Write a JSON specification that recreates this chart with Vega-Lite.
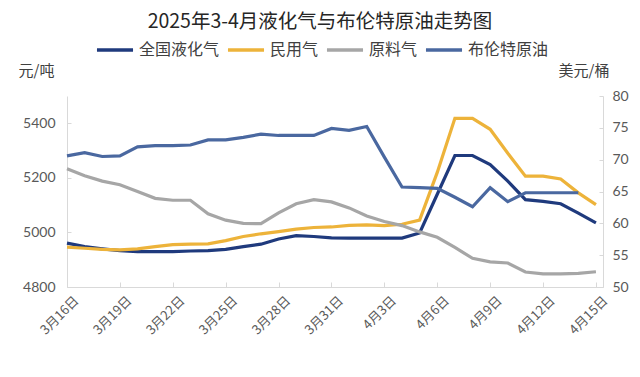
{
  "$schema": "https://vega.github.io/schema/vega-lite/v6.json",
  "width": 536,
  "height": 191,
  "autosize": {"type": "none"},
  "padding": {"left": 67, "top": 96, "right": 37, "bottom": 90},
  "background": "white",
  "config": {"view": {"stroke": null}, "font": "Noto Sans CJK SC"},
  "title": {
    "text": "2025年3-4月液化气与布伦特原油走势图",
    "fontSize": 19.5,
    "fontWeight": "normal",
    "color": "#262626",
    "anchor": "middle",
    "frame": "group",
    "dx": -15,
    "offset": -2
  },
  "data": {
    "values": [
      {"date": "2025-03-16", "全国液化气": 4961, "民用气": 4946, "原料气": 5233, "布伦特原油": 70.6},
      {"date": "2025-03-17", "全国液化气": 4948, "民用气": 4942, "原料气": 5208, "布伦特原油": 71.1},
      {"date": "2025-03-18", "全国液化气": 4940, "民用气": 4938, "原料气": 5188, "布伦特原油": 70.5},
      {"date": "2025-03-19", "全国液化气": 4933, "民用气": 4936, "原料气": 5175, "布伦特原油": 70.6},
      {"date": "2025-03-20", "全国液化气": 4930, "民用气": 4940, "原料气": 5150, "布伦特原油": 72.0},
      {"date": "2025-03-21", "全国液化气": 4930, "民用气": 4948, "原料气": 5125, "布伦特原油": 72.2},
      {"date": "2025-03-22", "全国液化气": 4930, "民用气": 4955, "原料气": 5118, "布伦特原油": 72.2},
      {"date": "2025-03-23", "全国液化气": 4932, "民用气": 4957, "原料气": 5118, "布伦特原油": 72.3},
      {"date": "2025-03-24", "全国液化气": 4933, "民用气": 4958, "原料气": 5068, "布伦特原油": 73.1},
      {"date": "2025-03-25", "全国液化气": 4938, "民用气": 4970, "原料气": 5045, "布伦特原油": 73.1},
      {"date": "2025-03-26", "全国液化气": 4948, "民用气": 4985, "原料气": 5033, "布伦特原油": 73.5},
      {"date": "2025-03-27", "全国液化气": 4957, "民用气": 4995, "原料气": 5032, "布伦特原油": 74.0},
      {"date": "2025-03-28", "全国液化气": 4976, "民用气": 5003, "原料气": 5072, "布伦特原油": 73.8},
      {"date": "2025-03-29", "全国液化气": 4988, "民用气": 5012, "原料气": 5105, "布伦特原油": 73.8},
      {"date": "2025-03-30", "全国液化气": 4985, "民用气": 5018, "原料气": 5120, "布伦特原油": 73.8},
      {"date": "2025-03-31", "全国液化气": 4980, "民用气": 5020, "原料气": 5112, "布伦特原油": 74.9},
      {"date": "2025-04-01", "全国液化气": 4979, "民用气": 5026, "原料气": 5090, "布伦特原油": 74.6},
      {"date": "2025-04-02", "全国液化气": 4979, "民用气": 5028, "原料气": 5060, "布伦特原油": 75.2},
      {"date": "2025-04-03", "全国液化气": 4979, "民用气": 5025, "原料气": 5040, "布伦特原油": 70.4},
      {"date": "2025-04-04", "全国液化气": 4979, "民用气": 5030, "原料气": 5025, "布伦特原油": 65.7},
      {"date": "2025-04-05", "全国液化气": 4998, "民用气": 5045, "原料气": 5002, "布伦特原油": 65.6},
      {"date": "2025-04-06", "全国液化气": 5140, "民用气": 5220, "原料气": 4982, "布伦特原油": 65.5},
      {"date": "2025-04-07", "全国液化气": 5282, "民用气": 5418, "原料气": 4945, "布伦特原油": 64.1},
      {"date": "2025-04-08", "全国液化气": 5282, "民用气": 5418, "原料气": 4905, "布伦特原油": 62.6},
      {"date": "2025-04-09", "全国液化气": 5249, "民用气": 5378, "原料气": 4892, "布伦特原油": 65.6},
      {"date": "2025-04-10", "全国液化气": 5188, "民用气": 5290, "原料气": 4888, "布伦特原油": 63.4},
      {"date": "2025-04-11", "全国液化气": 5120, "民用气": 5206, "原料气": 4855, "布伦特原油": 64.8},
      {"date": "2025-04-12", "全国液化气": 5114, "民用气": 5206, "原料气": 4848, "布伦特原油": 64.8},
      {"date": "2025-04-13", "全国液化气": 5105, "民用气": 5196, "原料气": 4848, "布伦特原油": 64.8},
      {"date": "2025-04-14", "全国液化气": 5071, "民用气": 5145, "原料气": 4850, "布伦特原油": 64.8},
      {"date": "2025-04-15", "全国液化气": 5035, "民用气": 5102, "原料气": 4856, "布伦特原油": null}
    ]
  },
  "encoding": {
    "x": {
      "field": "date",
      "type": "temporal",
      "scale": {
        "type": "utc",
        "domain": [
          {"year": 2025, "month": 3, "date": 16, "utc": true},
          {"year": 2025, "month": 4, "date": 15, "hours": 9, "minutes": 36, "utc": true}
        ]
      },
      "axis": {
        "title": null,
        "grid": false,
        "values": [
          {"year": 2025, "month": 3, "date": 16, "utc": true},
          {"year": 2025, "month": 3, "date": 19, "utc": true},
          {"year": 2025, "month": 3, "date": 22, "utc": true},
          {"year": 2025, "month": 3, "date": 25, "utc": true},
          {"year": 2025, "month": 3, "date": 28, "utc": true},
          {"year": 2025, "month": 3, "date": 31, "utc": true},
          {"year": 2025, "month": 4, "date": 3, "utc": true},
          {"year": 2025, "month": 4, "date": 6, "utc": true},
          {"year": 2025, "month": 4, "date": 9, "utc": true},
          {"year": 2025, "month": 4, "date": 12, "utc": true},
          {"year": 2025, "month": 4, "date": 15, "utc": true}
        ],
        "labelExpr": "(utcmonth(datum.value) + 1) + '月' + utcdate(datum.value) + '日'",
        "labelAngle": -45,
        "labelFontSize": 13,
        "labelColor": "#595959",
        "labelPadding": 12,
        "labelOffset": 5,
        "domainColor": "#D9D9D9",
        "tickColor": "#D9D9D9",
        "tickSize": -5
      }
    }
  },
  "layer": [
    {
      "transform": [{"fold": ["全国液化气", "民用气", "原料气"], "as": ["s", "v"]}],
      "mark": {"type": "line", "strokeWidth": 3.2},
      "encoding": {
        "y": {
          "field": "v",
          "type": "quantitative",
          "scale": {"domain": [4800, 5500], "nice": false, "zero": false},
          "axis": {
            "values": [4800, 5000, 5200, 5400],
            "format": "d",
            "grid": false,
            "labelFont": "Lato",
            "labelFontSize": 14,
            "labelColor": "#595959",
            "labelPadding": 16,
            "domainColor": "#D9D9D9",
            "tickColor": "#D9D9D9",
            "tickSize": -4,
            "title": "元/吨",
            "titleAngle": 0,
            "titleX": -49,
            "titleY": -26,
            "titleAlign": "left",
            "titleBaseline": "middle",
            "titleFontSize": 15,
            "titleFontWeight": "normal",
            "titleColor": "#404040"
          }
        },
        "color": {
          "field": "s",
          "type": "nominal",
          "scale": {
            "domain": ["全国液化气", "民用气", "原料气", "布伦特原油"],
            "range": ["#1F3A7D", "#EDB33A", "#A6A6A6", "#4A68A0"]
          },
          "legend": {
            "orient": "none",
            "legendX": 28,
            "legendY": -66,
            "direction": "horizontal",
            "title": null,
            "symbolType": "stroke",
            "symbolStrokeWidth": 3.5,
            "symbolSize": 1300,
            "labelFontSize": 16,
            "labelColor": "#404040",
            "labelFont": "Noto Sans CJK SC",
            "columnPadding": 0,
            "labelOffset": 4
          }
        }
      }
    },
    {
      "transform": [
        {"fold": ["布伦特原油"], "as": ["s", "v"]},
        {"filter": "datum.v != null"}
      ],
      "mark": {"type": "line", "strokeWidth": 3.2},
      "encoding": {
        "y": {
          "field": "v",
          "type": "quantitative",
          "scale": {"domain": [50, 80], "nice": false, "zero": false},
          "axis": {
            "orient": "right",
            "values": [50, 55, 60, 65, 70, 75, 80],
            "grid": false,
            "labelFont": "Lato",
            "labelFontSize": 14,
            "labelColor": "#595959",
            "labelPadding": 13,
            "domainColor": "#D9D9D9",
            "tickColor": "#D9D9D9",
            "tickSize": -4,
            "title": "美元/桶",
            "titleAngle": 0,
            "titleX": -45,
            "titleY": -26,
            "titleAlign": "left",
            "titleBaseline": "middle",
            "titleFontSize": 15,
            "titleFontWeight": "normal",
            "titleColor": "#404040"
          }
        },
        "color": {"field": "s", "type": "nominal"}
      }
    }
  ],
  "resolve": {"scale": {"y": "independent"}}
}
